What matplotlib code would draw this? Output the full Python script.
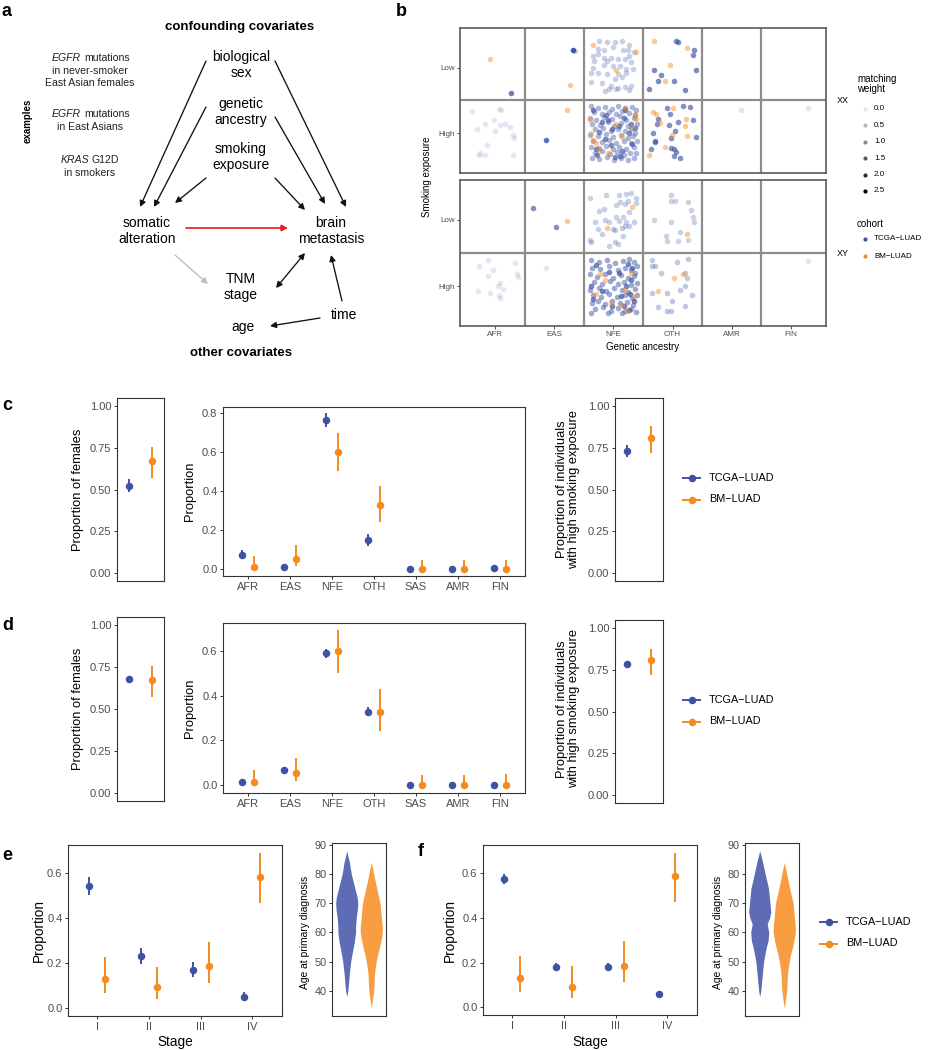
import numpy as np
import matplotlib
matplotlib.use('Agg')
import matplotlib.pyplot as plt

plt.rcParams['font.family'] = ['Liberation Sans', 'DejaVu Sans']

W, H = 942, 1050
BLUE = '#3D53A4'
ORANGE = '#F58A1F'
VBLUE = '#5E6CB5'
VORANGE = '#F99D42'
TXT = '#4D4D4D'
DARK = '#333333'

cohorts = ['TCGA-LUAD', 'BM-LUAD']

# ---------------- panel b: matching weights scatter ----------------
ancestry_b = ['AFR', 'EAS', 'NFE', 'OTH', 'AMR', 'FIN']
smoking_levels = ['Low', 'High']
weight_legend = [0.0, 0.5, 1.0, 1.5, 2.0, 2.5]

# (ancestry, smoking, cohort, weight, jitter offsets in 1/100 of a cell)
xx_groups = [
    ('AFR', 'Low', 'BM', 1.0, [(-9, -13)]),
    ('AFR', 'Low', 'TCGA', 1.8, [(27, 39)]),
    ('EAS', 'Low', 'BM', 1.0, [(35, -25), (26, 27)]),
    ('EAS', 'Low', 'TCGA', 2.4, [(31, -27)]),
    ('NFE', 'Low', 'TCGA', 0.5, [(-24, -41), (-27, -28), (-16, -27), (-11, -38), (0, -31), (3, -39),
                                 (14, -41), (27, -34), (16, -26), (35, -23), (27, -17), (-34, -18),
                                 (-33, -10), (-16, -15), (-5, -15), (8, -13), (19, -13), (30, -8),
                                 (-35, 0), (-16, -4), (0, -2), (11, -3), (22, 2), (-38, 8), (-27, 8),
                                 (-11, 10), (8, 10), (22, 8), (33, 2), (3, 17), (14, 15), (-38, 22),
                                 (-19, 23), (-5, 28), (8, 31), (19, 29), (30, 28), (27, 34), (-14, 36),
                                 (-8, 32), (5, 33), (-26, -20), (-11, -10), (24, -26)]),
    ('NFE', 'Low', 'BM', 1.0, [(-35, -34), (38, -23), (4, 4)]),
    ('OTH', 'Low', 'TCGA', 1.6, [(6, -40), (9, -38), (36, -26), (34, -19), (-32, 4), (39, 4), (-20, 11),
                                 (-24, 21), (3, 20), (-39, 33), (21, 34)]),
    ('OTH', 'Low', 'BM', 1.0, [(-31, -41), (24, -30), (-5, -4), (-13, 20)]),
    ('AFR', 'High', 'TCGA', 0.1, [(-40, -34), (6, -37), (10, -36), (-3, -21), (-18, -14), (8, -13),
                                  (17, -15), (25, -10), (-31, -6), (0, -4), (30, 2), (31, 7), (-15, 18),
                                  (-26, 29), (-27, 32), (-17, 32), (30, 32)]),
    ('EAS', 'High', 'BM', 1.0, [(22, -36)]),
    ('EAS', 'High', 'TCGA', 2.0, [(-15, 10)]),
    ('NFE', 'High', 'TCGA', 0.9, [(-38, -41), (-27, -38), (-14, -40), (-3, -37), (8, -41), (19, -39),
                                  (31, -40), (38, -36), (-33, -32), (-20, -30), (-8, -33), (4, -29),
                                  (15, -34), (27, -31), (36, -28), (-40, -24), (-29, -21), (-16, -25),
                                  (-2, -22), (11, -26), (22, -20), (34, -23), (-36, -15), (-22, -13),
                                  (-10, -17), (1, -12), (13, -16), (25, -11), (39, -14), (-31, -6),
                                  (-18, -8), (-5, -4), (7, -7), (19, -3), (30, -6), (37, 0), (-39, 2),
                                  (-26, 4), (-12, 1), (0, 5), (12, 3), (24, 7), (33, 4), (-34, 11),
                                  (-20, 13), (-8, 10), (5, 14), (17, 11), (29, 15), (40, 12), (-38, 20),
                                  (-25, 22), (-13, 19), (-1, 23), (10, 20), (22, 24), (35, 21), (-32, 29),
                                  (-19, 27), (-6, 31), (6, 28), (18, 32), (28, 29), (38, 30), (-37, 37),
                                  (-24, 39), (-11, 36), (1, 40), (13, 38), (25, 41), (34, 38)]),
    ('NFE', 'High', 'TCGA', 1.6, [(-35, -35), (-12, -28), (20, -35), (30, -15), (-25, -2), (9, -11),
                                  (-15, 8), (26, -1), (-4, 17), (15, 27), (-28, 33), (32, 16), (-20, -18),
                                  (3, 35), (36, -8), (-9, -20), (-30, 24), (18, -24), (-2, -6), (11, 34)]),
    ('NFE', 'High', 'BM', 1.0, [(-40, -20), (-38, 0), (-35, 10), (-30, 15), (36, -30), (38, -22),
                                (30, -10), (15, 5), (-10, 30), (20, -38), (-25, 25), (5, -15)]),
    ('OTH', 'High', 'TCGA', 1.5, [(-10, -39), (17, -41), (29, -40), (-5, -30), (-24, -22), (-26, -15),
                                  (9, -18), (34, -20), (-6, -13), (-33, -1), (5, -3), (40, 5), (-30, 11),
                                  (-29, 13), (-2, 7), (-2, 22), (3, 23), (6, 28), (-36, 23), (2, 34),
                                  (13, 38)]),
    ('OTH', 'High', 'BM', 1.0, [(-33, -32), (-28, -29), (1, -38), (-22, -16), (23, -22), (21, -12),
                                (-1, 2), (25, 4), (-12, 20), (-39, 32)]),
    ('AMR', 'High', 'TCGA', 0.15, [(16, -36)]),
    ('FIN', 'High', 'TCGA', 0.15, [(29, -38)]),
]

xy_groups = [
    ('EAS', 'Low', 'TCGA', 1.5, [(-37, -18), (3, 11)]),
    ('EAS', 'Low', 'BM', 1.0, [(22, 2)]),
    ('NFE', 'Low', 'TCGA', 0.5, [(-39, -33), (-13, -37), (10, -38), (21, -39), (30, -41), (38, -33),
                                 (11, -27), (25, -28), (19, -24), (38, -25), (27, -12), (-25, -14),
                                 (-14, 0), (-8, 4), (-32, 3), (4, -4), (10, 2), (16, -5), (22, 3),
                                 (34, 4), (-27, 14), (-1, 14), (2, 16), (14, 13), (19, 9), (27, 9),
                                 (-19, 21), (16, 24), (-39, 30), (-38, 33), (3, 33), (7, 36), (-7, 39),
                                 (5, -23), (-16, -17)]),
    ('NFE', 'Low', 'BM', 1.0, [(32, -20), (-11, 13)]),
    ('OTH', 'Low', 'TCGA', 0.45, [(-2, -37), (-2, -28), (5, -29), (27, -27), (32, -15), (35, -5),
                                  (36, 4), (-31, 0), (-3, 3), (13, 19), (-11, 24), (-9, 32), (10, 32),
                                  (26, 31)]),
    ('OTH', 'Low', 'BM', 1.0, [(24, 21)]),
    ('AFR', 'High', 'TCGA', 0.1, [(-12, -40), (-27, -30), (-4, -25), (33, -35), (-12, -15), (37, -18),
                                  (39, -14), (7, -5), (4, -1), (13, 4), (-29, 7), (-9, 10), (6, 14),
                                  (8, 18)]),
    ('EAS', 'High', 'TCGA', 0.1, [(-14, -27)]),
    ('NFE', 'High', 'TCGA', 1.1, [(-38, -39), (-24, -36), (-11, -40), (2, -35), (16, -38), (27, -41),
                                  (35, -37), (39, -30), (-36, -28), (-22, -26), (-7, -30), (7, -24),
                                  (20, -28), (30, -25), (37, -20), (-40, -18), (-28, -14), (-15, -19),
                                  (-1, -13), (12, -17), (25, -12), (34, -15), (-33, -6), (-19, -3),
                                  (-6, -8), (8, -4), (18, -7), (29, -2), (40, -5), (-39, 5), (-25, 3),
                                  (-12, 7), (1, 2), (14, 6), (24, 9), (36, 4), (-34, 14), (-21, 16),
                                  (-8, 12), (6, 17), (19, 13), (31, 18), (39, 14), (-37, 25), (-27, 23),
                                  (-14, 27), (-2, 22), (11, 26), (23, 24), (33, 28), (-31, 34), (-18, 32),
                                  (-5, 37), (8, 33), (20, 38), (29, 34), (38, 39), (-38, 40), (-10, 41),
                                  (14, 41)]),
    ('NFE', 'High', 'TCGA', 1.7, [(25, -33), (30, -10), (22, 0), (28, 12), (34, 22), (18, 30), (-30, -32),
                                  (-35, 20), (-20, 8), (10, -20), (-2, 30), (26, 36), (12, 15), (-38, 0),
                                  (32, -28), (-8, -22)]),
    ('NFE', 'High', 'BM', 1.0, [(-22, -18), (-30, 12), (-15, -10), (20, 5), (15, 28), (30, -20), (-5, 25),
                                (35, 15), (25, 38)]),
    ('OTH', 'High', 'TCGA', 0.6, [(-34, -39), (-30, -31), (-35, -31), (-20, -20), (8, -37), (26, -41),
                                  (21, -20), (25, -12), (-35, 11), (-10, 11), (13, 5), (21, -1), (33, 13),
                                  (-1, 23), (-24, 31), (21, 30), (-10, 38), (-3, 37)]),
    ('OTH', 'High', 'BM', 1.0, [(17, -19), (2, -12), (-24, 8)]),
    ('FIN', 'High', 'TCGA', 0.15, [(29, -38)]),
]

# ---------------- panels c / d: covariate balance ----------------
ancestry_c = ['AFR', 'EAS', 'NFE', 'OTH', 'SAS', 'AMR', 'FIN']

c_female_est = [0.523, 0.671]
c_female_lo = [0.483, 0.571]
c_female_hi = [0.563, 0.756]
c_anc_tcga_est = [0.072, 0.010, 0.766, 0.147, 0.000, 0.001, 0.004]
c_anc_tcga_lo = [0.050, 0.005, 0.728, 0.118, 0.000, 0.000, 0.000]
c_anc_tcga_hi = [0.096, 0.016, 0.800, 0.178, 0.003, 0.004, 0.010]
c_anc_bm_est = [0.012, 0.053, 0.603, 0.329, 0.000, 0.000, 0.000]
c_anc_bm_lo = [0.000, 0.017, 0.503, 0.240, 0.000, 0.000, 0.000]
c_anc_bm_hi = [0.068, 0.123, 0.697, 0.428, 0.046, 0.046, 0.046]
c_smoke_est = [0.731, 0.808]
c_smoke_lo = [0.693, 0.720]
c_smoke_hi = [0.765, 0.880]

d_female_est = [0.677, 0.671]
d_female_lo = [0.664, 0.572]
d_female_hi = [0.690, 0.756]
d_anc_tcga_est = [0.013, 0.067, 0.588, 0.328, 0.000, 0.000, 0.001]
d_anc_tcga_lo = [0.008, 0.060, 0.569, 0.309, 0.000, 0.000, 0.000]
d_anc_tcga_hi = [0.018, 0.074, 0.606, 0.348, 0.002, 0.002, 0.003]
d_anc_bm_est = [0.013, 0.055, 0.600, 0.328, 0.000, 0.000, 0.000]
d_anc_bm_lo = [0.000, 0.019, 0.502, 0.242, 0.000, 0.000, 0.000]
d_anc_bm_hi = [0.067, 0.123, 0.692, 0.428, 0.046, 0.046, 0.049]
d_smoke_est = [0.787, 0.807]
d_smoke_lo = [0.777, 0.717]
d_smoke_hi = [0.797, 0.877]

# ---------------- panels e / f: stage and age ----------------
stages = ['I', 'II', 'III', 'IV']
e_tcga_est = [0.545, 0.231, 0.170, 0.050]
e_tcga_lo = [0.503, 0.198, 0.138, 0.031]
e_tcga_hi = [0.585, 0.268, 0.204, 0.073]
e_bm_est = [0.130, 0.094, 0.186, 0.585]
e_bm_lo = [0.067, 0.040, 0.110, 0.469]
e_bm_hi = [0.229, 0.184, 0.295, 0.692]
f_tcga_est = [0.575, 0.180, 0.180, 0.060]
f_tcga_lo = [0.553, 0.164, 0.164, 0.054]
f_tcga_hi = [0.597, 0.196, 0.196, 0.066]
f_bm_est = [0.131, 0.092, 0.186, 0.585]
f_bm_lo = [0.067, 0.042, 0.112, 0.472]
f_bm_hi = [0.231, 0.186, 0.297, 0.692]

# violin outlines: age and relative half-width
e_tcga_age = [38, 40, 42, 45, 47, 50, 52, 55, 57, 60, 62, 65, 68, 70, 72, 75, 78, 80, 82, 84, 86, 88]
e_tcga_width = [0, 0.10, 0.15, 0.22, 0.27, 0.36, 0.45, 0.60, 0.70, 0.80, 0.80, 0.86, 0.97, 1.0, 0.95,
                0.75, 0.55, 0.42, 0.33, 0.25, 0.12, 0]
f_tcga_age = [38, 40, 45, 50, 52, 55, 57, 60, 62, 63, 65, 67, 70, 75, 78, 80, 82, 84, 86, 88]
f_tcga_width = [0, 0.10, 0.22, 0.35, 0.45, 0.60, 0.75, 0.82, 0.72, 0.68, 0.90, 1.0, 0.93, 0.80, 0.62,
                0.50, 0.38, 0.27, 0.14, 0]
bm_age = [34, 36, 38, 40, 42, 45, 47, 50, 52, 55, 58, 60, 62, 65, 70, 75, 78, 80, 82, 84]
bm_width = [0, 0.08, 0.15, 0.22, 0.25, 0.28, 0.33, 0.45, 0.55, 0.75, 0.92, 1.0, 1.0, 0.92, 0.80, 0.50,
            0.33, 0.23, 0.12, 0]

fig = plt.figure(figsize=(W / 100, H / 100), dpi=100)


def px_axes(x0, y0, x1, y1):
    return fig.add_axes([x0 / W, 1 - y1 / H, (x1 - x0) / W, (y1 - y0) / H])


def style_gg(ax, size=8):
    for s in ax.spines.values():
        s.set_color(DARK)
        s.set_linewidth(0.8)
    ax.tick_params(colors=DARK, labelcolor=TXT, labelsize=size, length=2.5, width=0.7, pad=1.5)


def pointrange(ax, x, est, lo, hi, color):
    est = np.asarray(est)
    yerr = [est - np.asarray(lo), np.asarray(hi) - est]
    ax.errorbar(x, est, yerr=yerr, fmt='o', color=color, ms=4.4, mec=color,
                elinewidth=1.4, capsize=0, zorder=3)


def alpha_of(w):
    return 0.1 + 0.9 * w / 2.5


# overlay for diagram, labels and legends (pixel coordinates)
ov = fig.add_axes([0, 0, 1, 1])
ov.set_xlim(0, W)
ov.set_ylim(H, 0)
ov.axis('off')
ov.set_zorder(-1)

# ---------------- panel a ----------------
nodes = {
    'sex': (241, 65, 'biological\nsex'),
    'anc': (241, 112, 'genetic\nancestry'),
    'smk': (241, 157, 'smoking\nexposure'),
    'som': (147, 231, 'somatic\nalteration'),
    'bm': (331, 231, 'brain\nmetastasis'),
    'tnm': (241, 287, 'TNM\nstage'),
    'age': (243, 327, 'age'),
    'time': (344, 315, 'time'),
}
for x, y, label in nodes.values():
    ov.text(x, y, label, ha='center', va='center', fontsize=10, linespacing=1.15)

ov.text(240, 27, 'confounding covariates', ha='center', va='center', fontsize=9.5, fontweight='bold')
ov.text(241, 353, 'other covariates', ha='center', va='center', fontsize=9.5, fontweight='bold')
ov.text(28, 121, 'examples', rotation=90, ha='center', va='center', fontsize=7, fontweight='bold')

ex_fs = 7.6
ov.text(81, 58, 'EGFR', ha='right', va='center', fontsize=ex_fs, style='italic', color='#222222')
ov.text(84, 58, 'mutations', ha='left', va='center', fontsize=ex_fs, color='#222222')
ov.text(90, 70.5, 'in never-smoker', ha='center', va='center', fontsize=ex_fs, color='#222222')
ov.text(90, 83, 'East Asian females', ha='center', va='center', fontsize=ex_fs, color='#222222')
ov.text(81, 114, 'EGFR', ha='right', va='center', fontsize=ex_fs, style='italic', color='#222222')
ov.text(84, 114, 'mutations', ha='left', va='center', fontsize=ex_fs, color='#222222')
ov.text(90, 126.5, 'in East Asians', ha='center', va='center', fontsize=ex_fs, color='#222222')
ov.text(89, 160, 'KRAS', ha='right', va='center', fontsize=ex_fs, style='italic', color='#222222')
ov.text(92, 160, 'G12D', ha='left', va='center', fontsize=ex_fs, color='#222222')
ov.text(90, 172.5, 'in smokers', ha='center', va='center', fontsize=ex_fs, color='#222222')

edges = [
    ((206, 61), (140, 207), '#111111', '-|>'),
    ((206, 107), (154, 207), '#111111', '-|>'),
    ((206, 178), (175, 203), '#111111', '-|>'),
    ((275, 61), (346, 207), '#111111', '-|>'),
    ((275, 117), (325, 204), '#111111', '-|>'),
    ((275, 178), (305, 210), '#111111', '-|>'),
    ((186, 228), (288, 228), '#E8191C', '-|>'),
    ((175, 255), (208, 284), '#BDBDBD', '-|>'),
    ((276, 288), (305, 253), '#111111', '<|-|>'),
    ((342, 301), (331, 255), '#111111', '-|>'),
    ((320, 318), (270, 326), '#111111', '-|>'),
]
for start, end, col, style in edges:
    ov.annotate('', xy=end, xytext=start,
                arrowprops=dict(arrowstyle=style, color=col, lw=1.2 if col == '#E8191C' else 0.95,
                                mutation_scale=9, shrinkA=0, shrinkB=0))

# panel letters
for letter, x, y in [('a', 2, 12), ('b', 396, 12), ('c', 2, 405), ('d', 2, 625), ('e', 2, 855), ('f', 418, 852)]:
    ov.text(x, y, letter, ha='left', va='center', fontsize=13, fontweight='bold')

# ---------------- panel b ----------------
for groups, box, strip, show_x in [(xx_groups, (460, 28, 826, 173), 'XX', False),
                                   (xy_groups, (460, 180, 826, 326), 'XY', True)]:
    ax = px_axes(*box)
    for anc, smk, coh, w, offs in groups:
        xs = [ancestry_b.index(anc) + 1 + dx / 100 for dx, dy in offs]
        ys = [smoking_levels.index(smk) + 1 + dy / 100 for dx, dy in offs]
        ax.scatter(xs, ys, s=16, color=BLUE if coh == 'TCGA' else ORANGE,
                   alpha=alpha_of(w), linewidths=0, zorder=3)
    ax.set_xlim(0.4, len(ancestry_b) + 0.6)
    ax.set_ylim(len(smoking_levels) + 0.6, 0.4)
    for i in range(1, len(ancestry_b)):
        ax.axvline(i + 0.5, color='#8C8C8C', lw=1.6, zorder=1)
    ax.axhline(1.5, color='#8C8C8C', lw=1.6, zorder=1)
    for s in ax.spines.values():
        s.set_color('#5A5A5A')
        s.set_linewidth(1.2)
    ax.set_yticks(range(1, len(smoking_levels) + 1), smoking_levels)
    ax.set_xticks(range(1, len(ancestry_b) + 1), ancestry_b if show_x else [])
    ax.tick_params(colors=DARK, labelcolor=TXT, labelsize=5.8, length=2, width=0.6, pad=1.5)
    if not show_x:
        ax.tick_params(axis='x', length=0)
    ov.text(837, (box[1] + box[3]) / 2, strip, ha='left', va='center', fontsize=6.5)

ov.text(643, 347, 'Genetic ancestry', ha='center', va='center', fontsize=7)
ov.text(427, 177, 'Smoking exposure', rotation=90, ha='center', va='center', fontsize=7)

ov.text(857, 84, 'matching\nweight', ha='left', va='center', fontsize=7, linespacing=1.1)
for i, w in enumerate(weight_legend):
    yk = 109 + i * 16.4
    ov.scatter([865], [yk], s=9, color='black', alpha=alpha_of(w), linewidths=0)
    ov.text(874, yk, f'{w:.1f}', ha='left', va='center', fontsize=5.8)
ov.text(857, 224, 'cohort', ha='left', va='center', fontsize=7)
for i, (name, col) in enumerate(zip(cohorts, [BLUE, ORANGE])):
    yk = 239 + i * 17
    ov.scatter([865], [yk], s=9, color=col, linewidths=0)
    ov.text(874, yk, name.replace('-', '\u2212'), ha='left', va='center', fontsize=5.8)


# ---------------- panels c / d ----------------
def legend_keys(x0, y0, fs):
    for i, (name, col) in enumerate(zip(cohorts, [BLUE, ORANGE])):
        yk = y0 + i * 21.5
        ov.plot([x0, x0 + 17], [yk, yk], color=col, lw=1.4)
        ov.plot([x0 + 8.5], [yk], 'o', color=col, ms=4.4)
        ov.text(x0 + 26, yk, name.replace('-', '\u2212'), ha='left', va='center', fontsize=fs)


def side_panel(box, vals):
    ax = px_axes(*box)
    pointrange(ax, [-0.29], [vals[0][0]], [vals[1][0]], [vals[2][0]], BLUE)
    pointrange(ax, [0.29], [vals[0][1]], [vals[1][1]], [vals[2][1]], ORANGE)
    ax.set_xlim(-0.6, 0.6)
    ax.set_ylim(-0.05, 1.05)
    ax.set_xticks([])
    ax.set_yticks([0, 0.25, 0.5, 0.75, 1.0], ['0.00', '0.25', '0.50', '0.75', '1.00'])
    style_gg(ax)


def balance_row(female, anc_t, anc_b, smoke, mid_box, mid_ylim, mid_ticks, side_boxes, legend_y):
    side_panel(side_boxes[0], female)

    ax = px_axes(*mid_box)
    x = np.arange(1, len(ancestry_c) + 1)
    pointrange(ax, x - 0.14, anc_t[0], anc_t[1], anc_t[2], BLUE)
    pointrange(ax, x + 0.14, anc_b[0], anc_b[1], anc_b[2], ORANGE)
    ax.set_xlim(0.4, len(ancestry_c) + 0.6)
    ax.set_ylim(*mid_ylim)
    ax.set_xticks(x, ancestry_c)
    ax.set_yticks(mid_ticks, [f'{t:.1f}' for t in mid_ticks])
    style_gg(ax)

    side_panel(side_boxes[1], smoke)

    cy = (side_boxes[0][1] + side_boxes[0][3]) / 2
    ov.text(78, cy, 'Proportion of females', rotation=90, ha='center', va='center', fontsize=9.3)
    ov.text(190, (mid_box[1] + mid_box[3]) / 2, 'Proportion', rotation=90, ha='center', va='center',
            fontsize=9.3)
    ov.text(568, cy, 'Proportion of individuals\nwith high smoking exposure', rotation=90,
            ha='center', va='center', fontsize=9.3, linespacing=1.1)
    legend_keys(683, legend_y, 7.8)


balance_row((c_female_est, c_female_lo, c_female_hi),
            (c_anc_tcga_est, c_anc_tcga_lo, c_anc_tcga_hi),
            (c_anc_bm_est, c_anc_bm_lo, c_anc_bm_hi),
            (c_smoke_est, c_smoke_lo, c_smoke_hi),
            (223, 407, 525, 576), (-0.036, 0.832), [0.0, 0.2, 0.4, 0.6, 0.8],
            [(117, 398, 164, 581), (615, 398, 663, 581)], 478)
balance_row((d_female_est, d_female_lo, d_female_hi),
            (d_anc_tcga_est, d_anc_tcga_lo, d_anc_tcga_hi),
            (d_anc_bm_est, d_anc_bm_lo, d_anc_bm_hi),
            (d_smoke_est, d_smoke_lo, d_smoke_hi),
            (223, 623, 525, 793), (-0.034, 0.723), [0.0, 0.2, 0.4, 0.6],
            [(117, 617, 164, 801), (615, 620, 663, 803)], 700)


# ---------------- panels e / f ----------------
def stage_panel(box, t, b, ylab_x):
    ax = px_axes(*box)
    x = np.arange(1, len(stages) + 1)
    pointrange(ax, x - 0.155, t[0], t[1], t[2], BLUE)
    pointrange(ax, x + 0.155, b[0], b[1], b[2], ORANGE)
    ax.set_xlim(0.43, len(stages) + 0.58)
    ax.set_ylim(-0.035, 0.726)
    ax.set_xticks(x, stages)
    ax.set_yticks([0.0, 0.2, 0.4, 0.6], ['0.0', '0.2', '0.4', '0.6'])
    style_gg(ax)
    ov.text(ylab_x, 931, 'Proportion', rotation=90, ha='center', va='center', fontsize=9.8)
    ov.text((box[0] + box[2]) / 2, 1042, 'Stage', ha='center', va='center', fontsize=9.8)


def violin_panel(box, tcga_age, tcga_w, ylab_x):
    ax = px_axes(*box)
    for pos, ages, widths, col in [(1, tcga_age, tcga_w, VBLUE), (2, bm_age, bm_width, VORANGE)]:
        hw = np.asarray(widths) * 0.45
        ax.fill_betweenx(ages, pos - hw, pos + hw, color=col, lw=0)
    ax.set_xlim(0.4, 2.6)
    ax.set_ylim(31.3, 90.7)
    ax.set_xticks([])
    ax.set_yticks([40, 50, 60, 70, 80, 90])
    style_gg(ax, size=7.8)
    ov.text(ylab_x, 932, 'Age at primary diagnosis', rotation=90, ha='center', va='center', fontsize=7.4)


stage_panel((68, 845, 282, 1016), (e_tcga_est, e_tcga_lo, e_tcga_hi), (e_bm_est, e_bm_lo, e_bm_hi), 39)
violin_panel((332, 843, 386, 1016), e_tcga_age, e_tcga_width, 305)
stage_panel((483, 845, 697, 1015), (f_tcga_est, f_tcga_lo, f_tcga_hi), (f_bm_est, f_bm_lo, f_bm_hi), 450)
violin_panel((745, 843, 799, 1016), f_tcga_age, f_tcga_width, 718)
legend_keys(820, 922, 7.8)

fig.savefig('out.png', dpi=100)
